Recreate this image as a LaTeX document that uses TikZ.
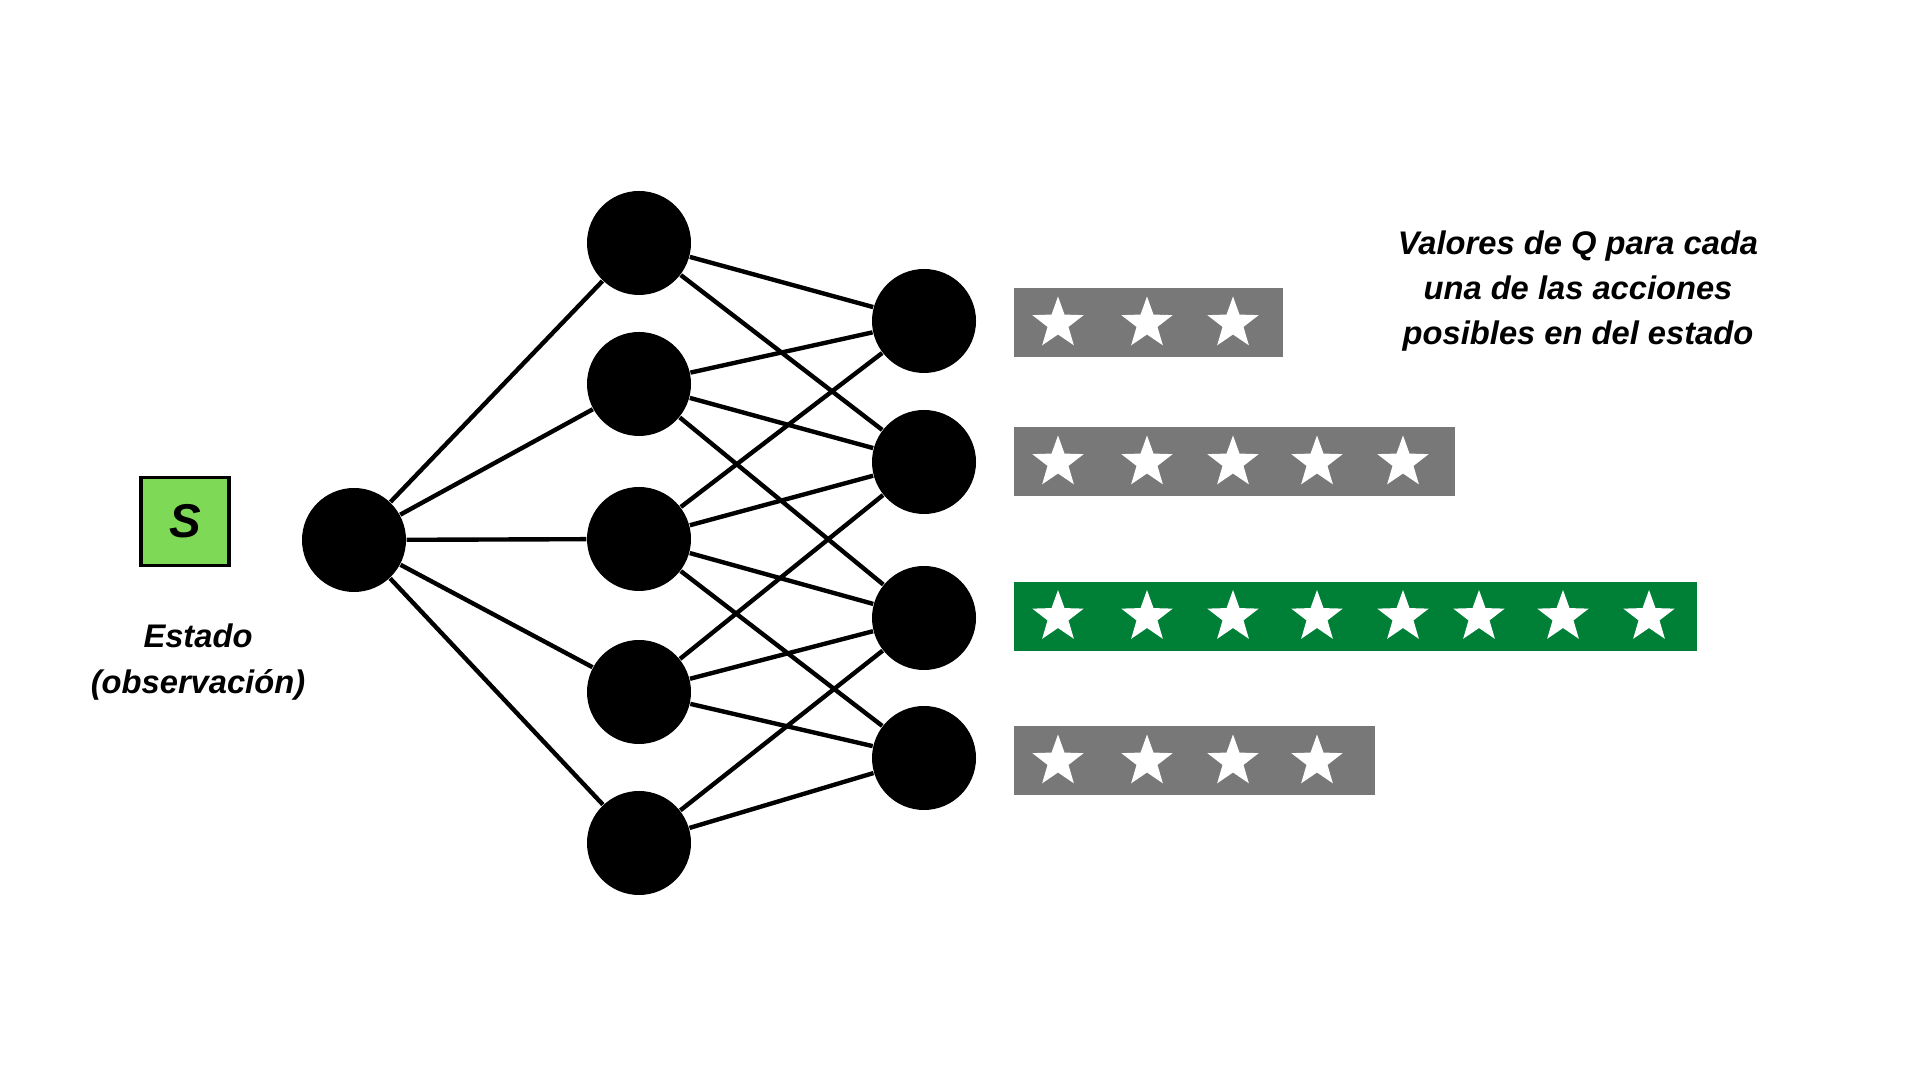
\documentclass[tikz,border=0pt]{standalone}
\usepackage{fontspec}
\setmainfont{Liberation Sans}
\usepackage{tikz}
\usetikzlibrary{positioning,shapes.geometric}
\usepackage{xcolor}
\definecolor{bargray}{HTML}{787878}
\definecolor{bestgreen}{HTML}{008037}
\definecolor{statelime}{HTML}{7ED957}

\begin{document}
\begin{tikzpicture}[
  neuron/.style={circle, fill=black, minimum size=1.04cm, inner sep=0pt},
  link/.style={black, line width=1.25pt},
  qbar/.style={rectangle, fill=bargray, anchor=south west, inner sep=0pt,
               minimum height=0.69cm},
  qstar/.style={star, star points=5, star point ratio=2.45, fill=white,
                minimum size=0.54cm, inner sep=0pt},
  statebox/.style={rectangle, draw=black, fill=statelime, line width=1pt,
                   minimum size=0.88cm, inner sep=0pt,
                   font=\fontsize{13.5}{15}\selectfont\bfseries\itshape},
  caption/.style={align=center, font=\fontsize{9.3}{12.9}\selectfont\bfseries\itshape},
]
\useasboundingbox (0,0) rectangle (19.2,10.8);
%─── Input: state s ────────────────────────────────────────────────────────
\node[statebox] (s) at (1.85, 5.585) {S};
\node[caption] (slabel) at (1.98, 4.18) {Estado\\(observación)};
%─── Network ───────────────────────────────────────────────────────────────
\node[neuron] (in) at (3.54, 5.40) {};
\node[neuron] (h1) at (6.39, 8.37) {};
\node[neuron] (h2) at (6.39, 6.96) {};
\node[neuron] (h3) at (6.39, 5.41) {};
\node[neuron] (h4) at (6.39, 3.88) {};
\node[neuron] (h5) at (6.39, 2.37) {};
\node[neuron] (o1) at (9.24, 7.59) {};
\node[neuron] (o2) at (9.24, 6.18) {};
\node[neuron] (o3) at (9.24, 4.62) {};
\node[neuron] (o4) at (9.24, 3.22) {};
\draw[link] (in)--(h1); \draw[link] (in)--(h2); \draw[link] (in)--(h3);
\draw[link] (in)--(h4); \draw[link] (in)--(h5);
\draw[link] (h1)--(o1); \draw[link] (h1)--(o2);
\draw[link] (h2)--(o1); \draw[link] (h2)--(o2); \draw[link] (h2)--(o3);
\draw[link] (h3)--(o1); \draw[link] (h3)--(o2);
\draw[link] (h3)--(o3); \draw[link] (h3)--(o4);
\draw[link] (h4)--(o2); \draw[link] (h4)--(o3); \draw[link] (h4)--(o4);
\draw[link] (h5)--(o3); \draw[link] (h5)--(o4);
%─── Q values ──────────────────────────────────────────────────────────────
\node[qbar, minimum width=2.69cm] (q1) at (10.13, 7.22) {};
\node[qbar, minimum width=4.41cm] (q2) at (10.13, 5.83) {};
\node[qbar, minimum width=6.83cm, fill=bestgreen] (q3) at (10.13, 4.285) {};
\node[qbar, minimum width=3.61cm] (q4) at (10.13, 2.84) {};
\foreach \sx [count=\i] in {10.58, 11.47, 12.33}
  \node[qstar] (s1\i) at (\sx, 7.565) {};
\foreach \sx [count=\i] in {10.58, 11.47, 12.33, 13.17, 14.03}
  \node[qstar] (s2\i) at (\sx, 6.175) {};
\foreach \sx [count=\i] in {10.58, 11.47, 12.33, 13.17, 14.03, 14.79, 15.63, 16.49}
  \node[qstar] (s3\i) at (\sx, 4.63) {};
\foreach \sx [count=\i] in {10.58, 11.47, 12.33, 13.17}
  \node[qstar] (s4\i) at (\sx, 3.185) {};
\node[caption, font=\fontsize{9.3}{12.8}\selectfont\bfseries\itshape] (qlabel)
  at (15.78, 7.885) {Valores de Q para cada\\una de las acciones\\posibles en del estado};
\end{tikzpicture}
\end{document}
